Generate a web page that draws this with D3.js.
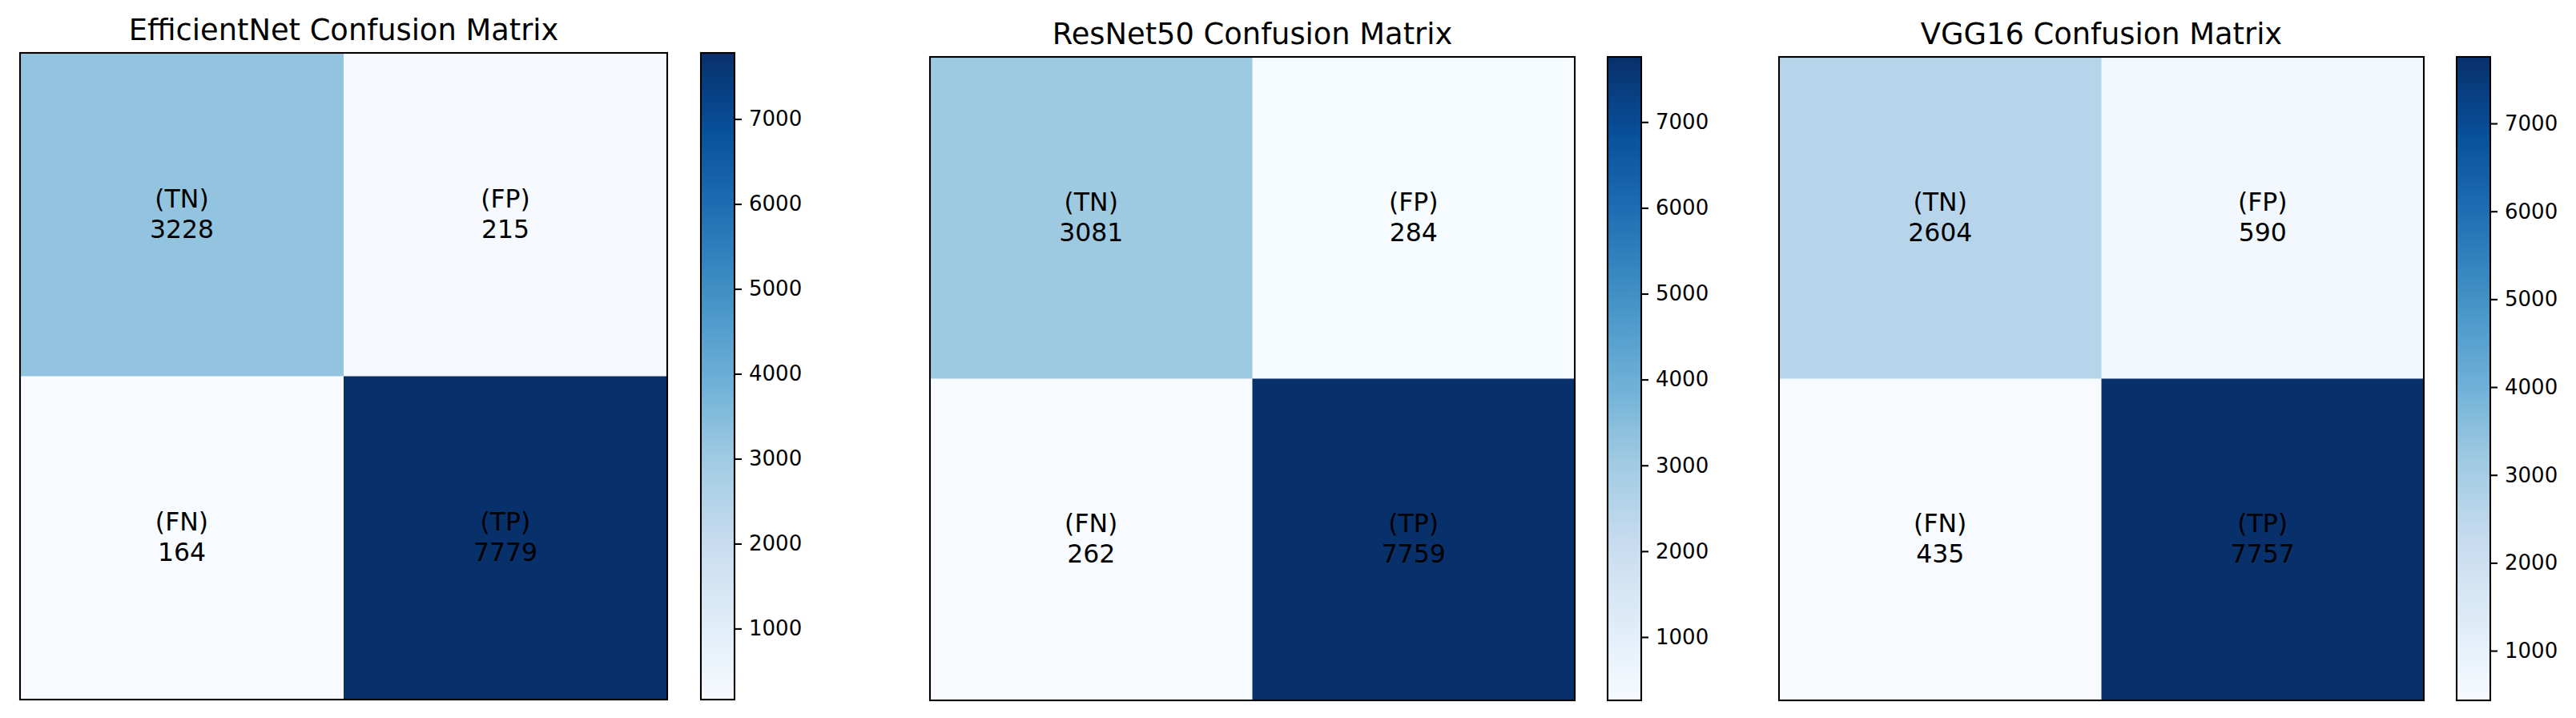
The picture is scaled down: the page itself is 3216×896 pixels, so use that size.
<!DOCTYPE html>
<html>
<head>
<meta charset="utf-8">
<script src="https://cdn.jsdelivr.net/npm/d3@7"></script>
<style>
  html, body { margin: 0; padding: 0; background: #ffffff; }
  svg { display: block; font-family: "DejaVu Sans", sans-serif; }
</style>
</head>
<body>
<svg id="chart" width="3216" height="896"></svg>
<script>
// ---- data ----
const models = ["EfficientNet", "ResNet50", "VGG16"];
const cellLabels = [["(TN)", "(FP)"], ["(FN)", "(TP)"]];
const efficientNetValues = [[3228, 215], [164, 7779]];
const resNet50Values = [[3081, 284], [262, 7759]];
const vgg16Values = [[2604, 590], [435, 7757]];
const colorbarTicks = [1000, 2000, 3000, 4000, 5000, 6000, 7000];
const bluesStops = ["#f7fbff","#deebf7","#c6dbef","#9ecae1","#6baed6","#4292c6","#2171b5","#08519c","#08306b"];

const matrices = [efficientNetValues, resNet50Values, vgg16Values];

// ---- layout ----
const layouts = [
  { hx: 25,   hy: 66, hw: 808, hh: 807, cx: 875,  cw: 42 },
  { hx: 1161, hy: 71, hw: 805, hh: 803, cx: 2007, cw: 42 },
  { hx: 2221, hy: 71, hw: 805, hh: 803, cx: 3067, cw: 42 }
];

const svg = d3.select("#chart");
const defs = svg.append("defs");
const blues = d3.scaleLinear()
  .domain(d3.range(bluesStops.length).map(i => i / (bluesStops.length - 1)))
  .range(bluesStops)
  .interpolate(d3.interpolateRgb)
  .clamp(true);

models.forEach((name, m) => {
  const L = layouts[m];
  const data = matrices[m];
  const flat = data.flat();
  const vmin = d3.min(flat), vmax = d3.max(flat);
  const norm = d3.scaleLinear().domain([vmin, vmax]).range([0, 1]);
  const color = v => blues(norm(v));

  const g = svg.append("g");

  const x = d3.scaleBand().domain([0, 1]).range([L.hx, L.hx + L.hw]);
  const y = d3.scaleBand().domain([0, 1]).range([L.hy, L.hy + L.hh]);

  const cells = [];
  data.forEach((row, r) => row.forEach((v, c) => cells.push({ r, c, v, label: cellLabels[r][c] })));

  g.selectAll("rect.cell").data(cells).join("rect")
    .attr("class", "cell")
    .attr("x", d => x(d.c))
    .attr("y", d => y(d.r))
    .attr("width", x.bandwidth() + 0.5)
    .attr("height", y.bandwidth() + 0.5)
    .attr("fill", d => color(d.v));

  const txt = g.selectAll("text.ann").data(cells).join("text")
    .attr("class", "ann")
    .attr("x", d => x(d.c) + x.bandwidth() / 2)
    .attr("y", d => y(d.r) + y.bandwidth() / 2)
    .attr("text-anchor", "middle")
    .attr("font-size", 31.5)
    .attr("fill", "#000");
  txt.append("tspan")
    .attr("x", d => x(d.c) + x.bandwidth() / 2)
    .attr("dy", -9)
    .text(d => d.label);
  txt.append("tspan")
    .attr("x", d => x(d.c) + x.bandwidth() / 2)
    .attr("dy", 38)
    .text(d => d.v);

  // frame
  g.append("rect")
    .attr("x", L.hx).attr("y", L.hy)
    .attr("width", L.hw).attr("height", L.hh)
    .attr("fill", "none").attr("stroke", "#000").attr("stroke-width", 2.1);

  // title
  g.append("text")
    .attr("x", L.hx + L.hw / 2)
    .attr("y", L.hy - 16)
    .attr("text-anchor", "middle")
    .attr("font-size", 36.8)
    .attr("fill", "#000")
    .text(name + " Confusion Matrix");

  // colorbar
  const gradId = "grad" + m;
  const grad = defs.append("linearGradient")
    .attr("id", gradId)
    .attr("x1", 0).attr("y1", 1).attr("x2", 0).attr("y2", 0);
  d3.range(0, 1.0001, 0.02).forEach(t => {
    grad.append("stop").attr("offset", t).attr("stop-color", blues(t));
  });
  g.append("rect")
    .attr("x", L.cx).attr("y", L.hy)
    .attr("width", L.cw).attr("height", L.hh)
    .attr("fill", `url(#${gradId})`)
    .attr("stroke", "#000").attr("stroke-width", 2.1);

  const cy = d3.scaleLinear().domain([vmin, vmax]).range([L.hy + L.hh, L.hy]);
  const axis = d3.axisRight(cy)
    .tickValues(colorbarTicks.filter(t => t >= vmin && t <= vmax))
    .tickSize(9)
    .tickPadding(9)
    .tickFormat(d3.format("d"));
  const ag = g.append("g")
    .attr("transform", `translate(${L.cx + L.cw},0)`)
    .call(axis);
  ag.select(".domain").remove();
  ag.selectAll(".tick line").attr("stroke", "#000").attr("stroke-width", 2.1);
  ag.selectAll(".tick text")
    .attr("font-size", 26)
    .attr("font-family", "DejaVu Sans, sans-serif")
    .attr("fill", "#000");
});
</script>
</body>
</html>
